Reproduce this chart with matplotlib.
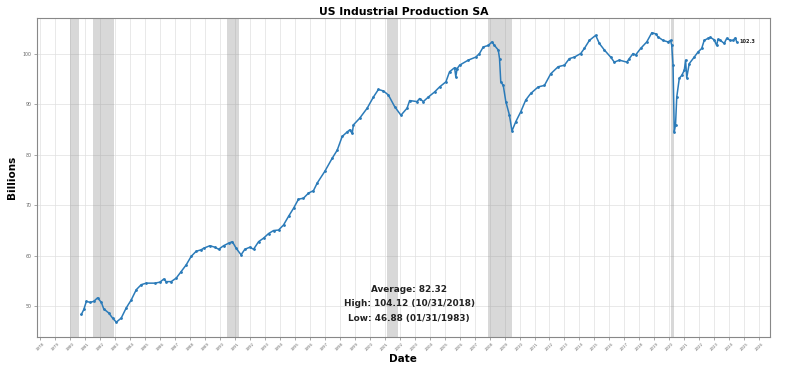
import pandas as pd
import matplotlib
matplotlib.use("Agg")
from matplotlib import pyplot as plt
import matplotlib.dates as mdates

# monthly readings (month-end) of US industrial production
months = [
  "1980-09", "1980-11", "1981-01", "1981-04", "1981-07", "1981-10", "1982-01", "1982-03",
  "1982-07", "1982-10", "1983-01", "1983-05", "1983-09", "1984-01", "1984-05", "1984-09",
  "1985-01", "1985-08", "1985-12", "1986-03", "1986-05", "1986-09", "1987-01", "1987-05",
  "1987-09", "1988-01", "1988-05", "1988-09", "1988-11", "1989-04", "1989-08", "1989-11",
  "1990-03", "1990-07", "1990-10", "1991-01", "1991-05", "1991-08", "1991-12", "1992-03",
  "1992-07", "1992-11", "1993-03", "1993-07", "1993-11", "1994-03", "1994-07", "1994-11",
  "1995-03", "1995-07", "1995-11", "1996-03", "1996-06", "1996-12", "1997-06", "1997-10",
  "1998-02", "1998-06", "1998-08", "1998-10", "1998-11", "1999-04", "1999-10", "2000-03",
  "2000-07", "2000-11", "2001-03", "2001-08", "2002-01", "2002-06", "2002-08", "2003-02",
  "2003-04", "2003-07", "2003-11", "2004-04", "2004-08", "2005-01", "2005-04", "2005-08",
  "2005-09", "2005-10", "2005-12", "2006-07", "2007-01", "2007-04", "2007-07", "2007-11",
  "2008-02", "2008-04", "2008-07", "2008-08", "2008-09", "2008-11", "2009-01", "2009-04",
  "2009-06", "2009-09", "2010-01", "2010-05", "2010-09", "2011-03", "2011-08", "2012-01",
  "2012-07", "2012-12", "2013-04", "2013-08", "2014-01", "2014-04", "2014-08", "2015-01",
  "2015-04", "2015-08", "2016-01", "2016-04", "2016-08", "2017-02", "2017-04", "2017-07",
  "2017-09", "2018-01", "2018-06", "2018-10", "2019-01", "2019-03", "2019-07", "2019-11",
  "2020-01", "2020-02", "2020-03", "2020-04", "2020-05", "2020-06", "2020-08", "2020-10",
  "2020-12", "2021-01", "2021-02", "2021-04", "2021-08", "2021-11", "2022-02", "2022-04",
  "2022-07", "2022-09", "2022-12", "2023-02", "2023-03", "2023-05", "2023-08", "2023-10",
  "2024-01", "2024-03", "2024-05", "2024-06",
]
values = [
  48.4, 49.4, 51.0, 50.8, 51.0, 51.7, 50.8, 49.5,
  48.7, 47.7, 46.88, 47.7, 49.7, 51.3, 53.3, 54.3,
  54.6, 54.6, 54.8, 55.4, 54.9, 54.9, 55.6, 56.9,
  58.2, 59.9, 60.9, 61.2, 61.5, 62.0, 61.7, 61.3,
  62.0, 62.5, 62.8, 61.5, 60.2, 61.3, 61.7, 61.3,
  62.8, 63.5, 64.4, 65.0, 65.1, 66.1, 67.8, 69.4,
  71.2, 71.4, 72.4, 72.9, 74.4, 76.7, 79.3, 80.9,
  83.6, 84.5, 84.9, 84.2, 85.9, 87.2, 89.2, 91.4,
  92.9, 92.6, 91.8, 89.5, 87.8, 89.2, 90.7, 90.5,
  91.1, 90.5, 91.4, 92.4, 93.4, 94.4, 96.4, 97.2,
  95.4, 97.0, 97.7, 98.7, 99.3, 100.0, 101.3, 101.6,
  102.3, 101.6, 100.7, 99.0, 94.4, 93.7, 90.5, 87.8,
  84.7, 86.5, 88.5, 90.8, 92.1, 93.4, 93.7, 96.0,
  97.4, 97.7, 99.0, 99.3, 100.0, 101.0, 102.6, 103.6,
  102.0, 100.7, 99.3, 98.3, 98.7, 98.3, 99.0, 100.0,
  99.7, 101.0, 102.3, 104.12, 103.9, 103.3, 102.6, 102.3,
  102.6, 101.6, 97.7, 84.5, 85.9, 91.4, 95.1, 95.7,
  96.7, 98.7, 95.2, 98.0, 99.3, 100.3, 101.0, 102.6,
  103.0, 103.2, 102.7, 101.6, 102.8, 102.6, 102.0, 103.0,
  102.6, 102.6, 103.1, 102.3,
]

# NBER recessions
rec_start = ["1980-01-01", "1981-07-01", "1990-07-01", "2001-03-01", "2007-12-01", "2020-02-01"]
rec_end = ["1980-07-31", "1982-11-30", "1991-03-31", "2001-11-30", "2009-06-30", "2020-04-30"]

stats = ["Average: 82.32", "High: 104.12 (10/31/2018)", "Low: 46.88 (01/31/1983)"]


def main():
  dates = pd.to_datetime(months) + pd.offsets.MonthEnd(0)

  fig = plt.figure(figsize=(8, 3.72), dpi=100)
  ax = fig.add_axes([0.046, 0.095, 0.9165, 0.856])

  for s, e in zip(rec_start, rec_end):
    ax.axvspan(pd.Timestamp(s), pd.Timestamp(e), color='gray', alpha=0.3, lw=0)

  ax.plot(dates, values, color='#2b7bb9', lw=1.1, marker='o', markersize=1.0)
  ax.annotate(f"{values[-1]:.1f}", (dates[-1], values[-1]), xytext=(2, 0),
              textcoords='offset points', va='center', ha='left',
              fontsize=3.6, fontweight='bold', color='#222222')

  ax.xaxis.set_major_locator(mdates.YearLocator(1))
  ax.xaxis.set_major_formatter(mdates.DateFormatter('%Y'))
  plt.setp(ax.get_xticklabels(), rotation=45, fontsize=2.8, color='#444444')
  plt.setp(ax.get_yticklabels(), fontsize=3.4, color='#444444')
  ax.tick_params(length=2, width=0.4, colors='#666666', pad=1.5)

  ax.grid(True, color='#e0e0e0', lw=0.5)
  ax.set_axisbelow(True)
  for sp in ax.spines.values():
    sp.set_color('#888888')
    sp.set_linewidth(0.8)

  for i, txt in enumerate(stats):
    ax.text(0.508, 0.149 - i * 0.0455, txt, transform=ax.transAxes,
            ha='center', va='center', fontsize=6.4, fontweight='bold', color='#222222')

  ax.set_title('US Industrial Production SA', fontsize=7.8, fontweight='bold', pad=2)
  ax.set_xlabel('Date', fontsize=7.5, fontweight='bold', labelpad=2)
  ax.set_ylabel('Billions', fontsize=7.5, fontweight='bold', labelpad=4)

  fig.savefig('out.png', dpi=100)


if __name__ == '__main__':
  main()
